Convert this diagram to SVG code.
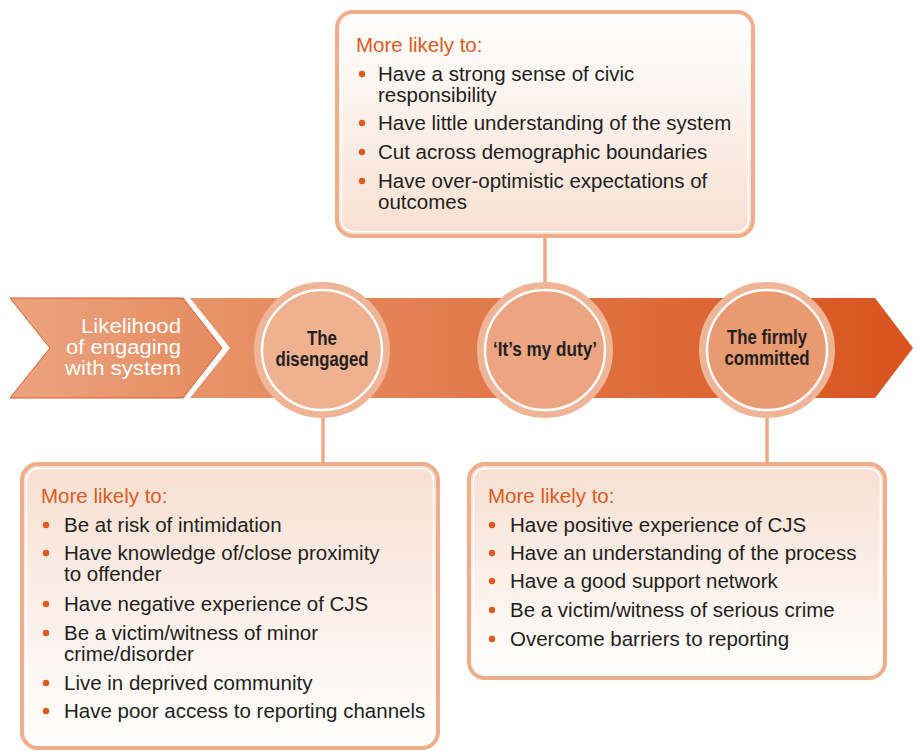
<svg xmlns="http://www.w3.org/2000/svg" width="920" height="751" viewBox="0 0 920 751">
<defs>
<linearGradient id="gChev" x1="0" y1="0" x2="1" y2="0"><stop offset="0" stop-color="#eca47f"/><stop offset="1" stop-color="#e58b5f"/></linearGradient>
<linearGradient id="gArrow" x1="0" y1="0" x2="1" y2="0"><stop offset="0" stop-color="#e8946b"/><stop offset="1" stop-color="#d9531d"/></linearGradient>
<linearGradient id="gBoxUp" x1="0" y1="0" x2="0" y2="1"><stop offset="0" stop-color="#ffffff"/><stop offset="1" stop-color="#f8e0d2"/></linearGradient>
<linearGradient id="gBoxDown" x1="0" y1="0" x2="0" y2="1"><stop offset="0" stop-color="#f7dfd1"/><stop offset="1" stop-color="#ffffff"/></linearGradient>
</defs>
<style>
.box{stroke:#efad8a;stroke-width:4}
.inner{fill:none;stroke:#ffffff;stroke-width:1.5}
.head{font-family:"Liberation Sans",Arial,sans-serif;font-size:20.5px;fill:#e05a1e}
.item{font-family:"Liberation Sans",Arial,sans-serif;font-size:20.5px;fill:#231f20}
.dot{fill:#e05a1e}
.ring{fill:none;stroke:#f0b596;stroke-width:7}
.circ{stroke:#ffffff;stroke-width:2.5}
.lbl{font-family:"Liberation Sans",Arial,sans-serif;font-size:21px;font-weight:bold;fill:#231f20;text-anchor:middle}
.conn{stroke:#eeab88;stroke-width:3.5;fill:none}
.chevtxt{font-family:"Liberation Sans",Arial,sans-serif;font-size:20px;fill:#ffffff;text-anchor:end}
</style>
<rect width="920" height="751" fill="#ffffff"/>

<g id="connectors">
<line class="conn" x1="545" y1="236" x2="545" y2="284"/>
<line class="conn" x1="323" y1="416" x2="323" y2="464"/>
<line class="conn" x1="767" y1="416" x2="767" y2="464"/>
</g>

<g id="chevron">
<polygon points="10,298 183,298 222,348 183,398 10,398 50,348" fill="url(#gChev)" stroke="#d95d2b" stroke-width="1"/>
<text class="chevtxt" x="181" y="333" textLength="100" lengthAdjust="spacingAndGlyphs">Likelihood</text>
<text class="chevtxt" x="181" y="354" textLength="115" lengthAdjust="spacingAndGlyphs">of engaging</text>
<text class="chevtxt" x="181" y="375" textLength="116" lengthAdjust="spacingAndGlyphs">with system</text>
</g>

<g id="arrow">
<polygon points="190,298 875,298 913,348 875,398 190,398 230,348" fill="url(#gArrow)"/>
</g>

<g id="node-disengaged">
<circle class="ring" cx="322" cy="350" r="64.5"/>
<circle class="circ" cx="322" cy="350" r="60" fill="#efb190"/>
<text class="lbl" x="322" y="345" textLength="30" lengthAdjust="spacingAndGlyphs">The</text>
<text class="lbl" x="322" y="366" textLength="93" lengthAdjust="spacingAndGlyphs">disengaged</text>
</g>

<g id="node-duty">
<circle class="ring" cx="545" cy="350" r="64.5"/>
<circle class="circ" cx="545" cy="350" r="60" fill="#eca580"/>
<text class="lbl" x="545" y="356" textLength="104" lengthAdjust="spacingAndGlyphs">‘It’s my duty’</text>
</g>

<g id="node-committed">
<circle class="ring" cx="767" cy="350" r="64.5"/>
<circle class="circ" cx="767" cy="350" r="60" fill="#e99a70"/>
<text class="lbl" x="767" y="344" textLength="80" lengthAdjust="spacingAndGlyphs">The firmly</text>
<text class="lbl" x="767" y="365" textLength="85" lengthAdjust="spacingAndGlyphs">committed</text>
</g>

<g id="box-duty">
<rect class="box" x="337" y="12" width="416" height="224" rx="16" fill="url(#gBoxUp)"/>
<rect class="inner" x="341.5" y="16.5" width="407" height="215" rx="12"/>
<text class="head" x="356" y="52">More likely to:</text>
<circle class="dot" cx="362" cy="74" r="3.2"/>
<text class="item" x="378" y="81">Have a strong sense of civic</text>
<text class="item" x="378" y="102">responsibility</text>
<circle class="dot" cx="362" cy="123" r="3.2"/>
<text class="item" x="378" y="130">Have little understanding of the system</text>
<circle class="dot" cx="362" cy="152" r="3.2"/>
<text class="item" x="378" y="159">Cut across demographic boundaries</text>
<circle class="dot" cx="362" cy="181" r="3.2"/>
<text class="item" x="378" y="188">Have over-optimistic expectations of</text>
<text class="item" x="378" y="209">outcomes</text>
</g>

<g id="box-disengaged">
<rect class="box" x="22" y="464" width="416" height="284" rx="16" fill="url(#gBoxDown)"/>
<rect class="inner" x="26.5" y="468.5" width="407" height="275" rx="12"/>
<text class="head" x="41" y="503">More likely to:</text>
<circle class="dot" cx="46" cy="525" r="3.2"/>
<text class="item" x="64" y="532">Be at risk of intimidation</text>
<circle class="dot" cx="46" cy="553" r="3.2"/>
<text class="item" x="64" y="560">Have knowledge of/close proximity</text>
<text class="item" x="64" y="581">to offender</text>
<circle class="dot" cx="46" cy="604" r="3.2"/>
<text class="item" x="64" y="611">Have negative experience of CJS</text>
<circle class="dot" cx="46" cy="633" r="3.2"/>
<text class="item" x="64" y="640">Be a victim/witness of minor</text>
<text class="item" x="64" y="661">crime/disorder</text>
<circle class="dot" cx="46" cy="683" r="3.2"/>
<text class="item" x="64" y="690">Live in deprived community</text>
<circle class="dot" cx="46" cy="711" r="3.2"/>
<text class="item" x="64" y="718">Have poor access to reporting channels</text>
</g>

<g id="box-committed">
<rect class="box" x="469" y="464" width="416" height="214" rx="16" fill="url(#gBoxDown)"/>
<rect class="inner" x="473.5" y="468.5" width="407" height="205" rx="12"/>
<text class="head" x="488" y="503">More likely to:</text>
<circle class="dot" cx="492" cy="525" r="3.2"/>
<text class="item" x="510" y="532">Have positive experience of CJS</text>
<circle class="dot" cx="492" cy="553" r="3.2"/>
<text class="item" x="510" y="560">Have an understanding of the process</text>
<circle class="dot" cx="492" cy="581" r="3.2"/>
<text class="item" x="510" y="588">Have a good support network</text>
<circle class="dot" cx="492" cy="610" r="3.2"/>
<text class="item" x="510" y="617">Be a victim/witness of serious crime</text>
<circle class="dot" cx="492" cy="639" r="3.2"/>
<text class="item" x="510" y="646">Overcome barriers to reporting</text>
</g>
</svg>
